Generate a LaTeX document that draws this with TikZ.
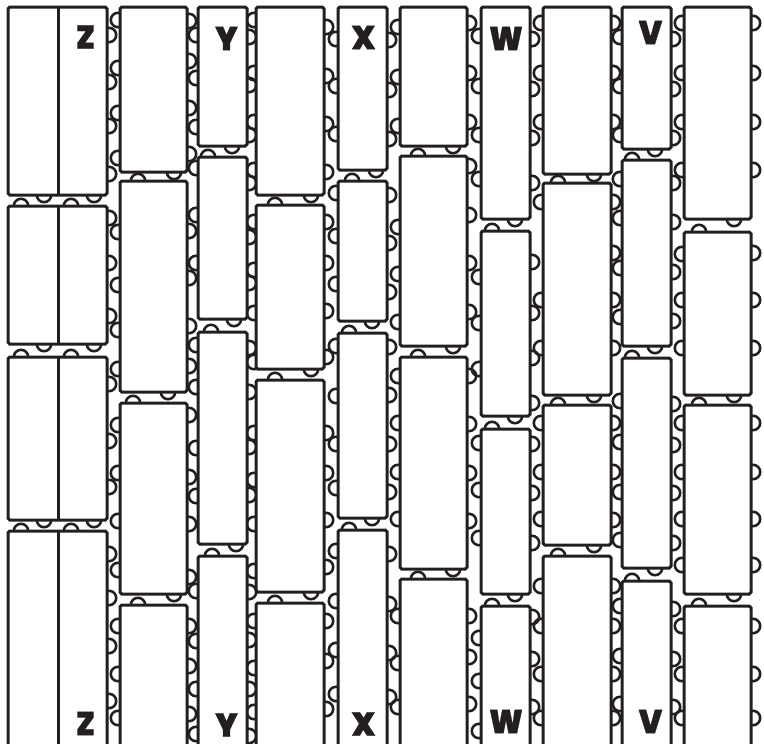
\documentclass[tikz,border=0pt]{standalone}
\usepackage{fontspec}
\newfontfamily\letterfont{Poppins}[UprightFont=* Black,FakeStretch=0.93,FakeBold=0.6]
\definecolor{inkline}{HTML}{231F20}
\begin{document}
\begin{tikzpicture}[x=1pt,y=-1pt,
  bump/.style={draw=inkline, line width=2.6pt},
  plank/.style={draw=inkline, fill=white, line width=3pt, rounded corners=1.8pt},
  letter/.style={text=inkline, font=\letterfont\fontsize{33}{33}\selectfont, inner sep=0pt}]
\useasboundingbox (0,0) rectangle (764,744);
\clip (0,0) rectangle (764,744);
\foreach \xb/\ylist in {
  109/{35,82,126,174,218,263,316,384,441,487,554,598,646,701},
  118/{20,68,113,158,232,285,330,369,425,473,521,570,626,674,718},
  189/{21,61,108,154,231,278,326,366,415,477,524,577,626,666,714},
  196/{35,78,127,168,215,263,345,387,448,496,591,641,689,734},
  249/{37,85,135,183,237,283,348,392,447,495,592,640,689,736},
  254/{20,73,122,170,222,270,313,362,433,480,524,571,621,668,712},
  326/{27,76,124,172,222,263,311,357,433,473,520,567,621,661,709},
  336/{39,86,134,193,236,284,346,396,444,488,551,601,650,694},
  389/{40,90,139,195,243,292,347,395,444,492,554,604,653,697},
  398/{27,77,126,227,274,322,376,423,472,519,616,663,707},
  469/{23,73,122,166,215,263,312,376,424,473,521,616,657,704},
  479/{36,86,135,179,277,323,369,443,490,538,638,681,731},
  532/{39,89,138,183,262,313,358,403,444,493,543,617,659,707},
  541/{23,73,122,202,300,348,423,472,519,586,626,674,718},
  613/{23,73,122,202,253,300,348,423,472,520,586,626,674,718},
  620/{37,86,135,179,218,268,317,401,442,492,540,606,656,704},
  673/{39,89,138,183,222,272,321,404,445,493,543,609,659,707},
  682/{23,73,122,170,254,300,348,423,472,519,565,626,674,718},
  753/{23,73,122,170,253,300,348,423,472,519,565,626,674,718}}
  \foreach \yb in \ylist \draw[bump] (\xb,\yb) circle[radius=7.2pt];
\foreach \yt/\yl in {206/195,357/344,531/520} {
  \foreach \xb in {21,71} \draw[bump] (\xb,\yt) circle[radius=7.2pt];
  \foreach \xb in {44,94} \draw[bump] (\xb,\yl) circle[radius=7.2pt];
}
\foreach \xu/\yt/\xd/\yl in {
  138/181/174/172, 133/403/168/392, 138/605/174/594,
  208/157/232/146, 211/332/234/319, 212/556/236/544,
  275/205/311/195, 275/380/311/369, 275/603/311/592,
  352/181/376/170, 349/333/372/321, 349/530/372/518,
  418/156/453/146, 418/357/453/346, 418/579/453/569,
  492/231/515/219, 492/429/515/416, 492/606/515/594,
  558/183/594/174, 558/405/594/395, 558/556/594/545,
  632/160/655/149, 632/358/655/346, 632/581/655/568,
  699/232/734/219, 699/405/734/395, 699/606/734/594} {
  \draw[bump] (\xu,\yt) circle[radius=7.2pt];
  \draw[bump] (\xd,\yl) circle[radius=7.2pt];
}
\foreach \ya/\yb in {7/195,206/344,357/520,531/760} {
  \draw[plank] (8,\ya) rectangle (107,\yb);
  \draw[plank] (58,\ya) -- (58,\yb);
}
\foreach \ya/\yb in {7/172,181/392,403/594,605/760} \draw[plank] (120,\ya) rectangle (187,\yb);
\foreach \ya/\yb in {7/146,157/319,332/544,556/760} \draw[plank] (198,\ya) rectangle (247,\yb);
\foreach \ya/\yb in {7/195,205/369,380/592,603/760} \draw[plank] (256,\ya) rectangle (324,\yb);
\foreach \ya/\yb in {7/170,181/321,333/518,530/760} \draw[plank] (338,\ya) rectangle (387,\yb);
\foreach \ya/\yb in {7/146,156/346,357/569,579/760} \draw[plank] (400,\ya) rectangle (467,\yb);
\foreach \ya/\yb in {7/219,231/416,429/594,606/760} \draw[plank] (481,\ya) rectangle (530,\yb);
\foreach \ya/\yb in {7/174,183/395,405/545,556/760} \draw[plank] (543,\ya) rectangle (611,\yb);
\foreach \ya/\yb in {7/149,160/346,358/568,581/760} \draw[plank] (622,\ya) rectangle (671,\yb);
\foreach \ya/\yb in {7/219,232/395,405/594,606/760} \draw[plank] (684,\ya) rectangle (751,\yb);
\node[letter] (ztop) at (85.5,37) {Z};
\node[letter] (ytop) at (226.5,38.5) {Y};
\node[letter] (xtop) at (363.5,37.5) {X};
\node[letter] (wtop) at (506,38.5) {W};
\node[letter] (vtop) at (650.5,32.5) {V};
\node[letter] (zbot) at (85.5,723.5) {Z};
\node[letter] (ybot) at (226.5,725) {Y};
\node[letter] (xbot) at (363.5,724) {X};
\node[letter] (wbot) at (506,721.5) {W};
\node[letter] (vbot) at (650.5,721.5) {V};
\end{tikzpicture}
\end{document}
